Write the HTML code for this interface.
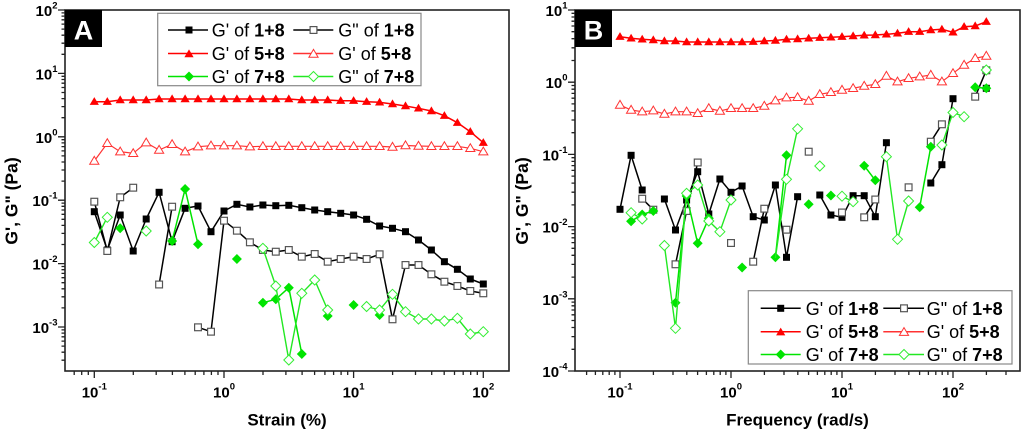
<!DOCTYPE html>
<html><head><meta charset="utf-8"><style>
html,body{margin:0;padding:0;background:#fff;}
svg{display:block;font-family:"Liberation Sans",Arial,sans-serif;}
</style></head><body>
<svg width="1024" height="430" viewBox="0 0 1024 430" xmlns="http://www.w3.org/2000/svg">
<defs>
<rect id="fs" x="-3.5" y="-3.5" width="7" height="7" fill="#000"/>
<rect id="os" x="-3.4" y="-3.4" width="6.8" height="6.8" fill="#fff" stroke="#555" stroke-width="1.2"/>
<polygon id="ft" points="0,-4.6 4.6,3.2 -4.6,3.2" fill="#f00"/>
<polygon id="ot" points="0,-4.6 4.6,3.2 -4.6,3.2" fill="#fff" stroke="#f33" stroke-width="1"/>
<polygon id="fd" points="0,-5 5,0 0,5 -5,0" fill="#00e400"/>
<polygon id="od" points="0,-5 5,0 0,5 -5,0" fill="#fff" stroke="#3e3" stroke-width="1"/>
</defs>
<rect width="1024" height="430" fill="#fff"/>

<!-- ================= PANEL A ================= -->
<g fill="none" stroke="#000" stroke-width="1.5" stroke-linejoin="round">
<polyline points="94.3,211.7 107.3,250 120.2,215 133.2,251 146.2,219 159.1,192.3 172.1,241.7 185.1,208.3 198,206 211,231.7 224,211 236.9,204.3 249.9,207 262.9,205 275.8,205.7 288.8,205.3 301.8,207.7 314.7,210 327.7,211.7 340.7,213.3 353.6,215 366.6,219.3 379.6,226 392.5,228.3 405.5,231.7 418.5,240 431.4,250 444.4,261.7 457.4,269.3 470.3,279 483.3,284"/>
</g>
<g>
<use href="#fs" x="94.3" y="211.7"/><use href="#fs" x="107.3" y="250"/><use href="#fs" x="120.2" y="215"/><use href="#fs" x="133.2" y="251"/><use href="#fs" x="146.2" y="219"/><use href="#fs" x="159.1" y="192.3"/><use href="#fs" x="172.1" y="241.7"/><use href="#fs" x="185.1" y="208.3"/><use href="#fs" x="198" y="206"/><use href="#fs" x="211" y="231.7"/><use href="#fs" x="224" y="211"/><use href="#fs" x="236.9" y="204.3"/><use href="#fs" x="249.9" y="207"/><use href="#fs" x="262.9" y="205"/><use href="#fs" x="275.8" y="205.7"/><use href="#fs" x="288.8" y="205.3"/><use href="#fs" x="301.8" y="207.7"/><use href="#fs" x="314.7" y="210"/><use href="#fs" x="327.7" y="211.7"/><use href="#fs" x="340.7" y="213.3"/><use href="#fs" x="353.6" y="215"/><use href="#fs" x="366.6" y="219.3"/><use href="#fs" x="379.6" y="226"/><use href="#fs" x="392.5" y="228.3"/><use href="#fs" x="405.5" y="231.7"/><use href="#fs" x="418.5" y="240"/><use href="#fs" x="431.4" y="250"/><use href="#fs" x="444.4" y="261.7"/><use href="#fs" x="457.4" y="269.3"/><use href="#fs" x="470.3" y="279"/><use href="#fs" x="483.3" y="284"/>
</g>
<g fill="none" stroke="#000" stroke-width="1.5" stroke-linejoin="round">
<polyline points="94.3,201.7 107.3,251 120.2,197.3 133.2,187.7"/>
<polyline points="159.1,284.5 172.1,206.7"/>
<polyline points="198,327.3 211,331.7 224,220.7 236.9,230.7 249.9,242.3 262.9,250 275.8,251.7 288.8,250 301.8,256.7 314.7,254 327.7,261.7 340.7,259 353.6,256.7 366.6,259 379.6,254.3 392.5,319.3 405.5,265 418.5,265 431.4,274.3 444.4,281.7 457.4,286 470.3,291 483.3,293.3"/>
</g>
<g>
<use href="#os" x="94.3" y="201.7"/><use href="#os" x="107.3" y="251"/><use href="#os" x="120.2" y="197.3"/><use href="#os" x="133.2" y="187.7"/><use href="#os" x="159.1" y="284.5"/><use href="#os" x="172.1" y="206.7"/><use href="#os" x="198" y="327.3"/><use href="#os" x="211" y="331.7"/><use href="#os" x="224" y="220.7"/><use href="#os" x="236.9" y="230.7"/><use href="#os" x="249.9" y="242.3"/><use href="#os" x="262.9" y="250"/><use href="#os" x="275.8" y="251.7"/><use href="#os" x="288.8" y="250"/><use href="#os" x="301.8" y="256.7"/><use href="#os" x="314.7" y="254"/><use href="#os" x="327.7" y="261.7"/><use href="#os" x="340.7" y="259"/><use href="#os" x="353.6" y="256.7"/><use href="#os" x="366.6" y="259"/><use href="#os" x="379.6" y="254.3"/><use href="#os" x="392.5" y="319.3"/><use href="#os" x="405.5" y="265"/><use href="#os" x="418.5" y="265"/><use href="#os" x="431.4" y="274.3"/><use href="#os" x="444.4" y="281.7"/><use href="#os" x="457.4" y="286"/><use href="#os" x="470.3" y="291"/><use href="#os" x="483.3" y="293.3"/>
</g>
<polyline fill="none" stroke="#f00" stroke-width="1.5" points="94.3,101.7 107.3,101.7 120.2,100 133.2,100 146.2,100 159.1,99 172.1,99 185.1,99 198,99 211,99 224,99 236.9,99 249.9,99 262.9,99 275.8,99 288.8,99 301.8,100 314.7,100 327.7,100 340.7,100.7 353.6,100.7 366.6,101.7 379.6,102.3 392.5,104 405.5,106 418.5,108.3 431.4,111 444.4,115.7 457.4,122.7 470.3,131.7 483.3,142.7"/>
<g>
<use href="#ft" x="94.3" y="101.7"/><use href="#ft" x="107.3" y="101.7"/><use href="#ft" x="120.2" y="100"/><use href="#ft" x="133.2" y="100"/><use href="#ft" x="146.2" y="100"/><use href="#ft" x="159.1" y="99"/><use href="#ft" x="172.1" y="99"/><use href="#ft" x="185.1" y="99"/><use href="#ft" x="198" y="99"/><use href="#ft" x="211" y="99"/><use href="#ft" x="224" y="99"/><use href="#ft" x="236.9" y="99"/><use href="#ft" x="249.9" y="99"/><use href="#ft" x="262.9" y="99"/><use href="#ft" x="275.8" y="99"/><use href="#ft" x="288.8" y="99"/><use href="#ft" x="301.8" y="100"/><use href="#ft" x="314.7" y="100"/><use href="#ft" x="327.7" y="100"/><use href="#ft" x="340.7" y="100.7"/><use href="#ft" x="353.6" y="100.7"/><use href="#ft" x="366.6" y="101.7"/><use href="#ft" x="379.6" y="102.3"/><use href="#ft" x="392.5" y="104"/><use href="#ft" x="405.5" y="106"/><use href="#ft" x="418.5" y="108.3"/><use href="#ft" x="431.4" y="111"/><use href="#ft" x="444.4" y="115.7"/><use href="#ft" x="457.4" y="122.7"/><use href="#ft" x="470.3" y="131.7"/><use href="#ft" x="483.3" y="142.7"/>
</g>
<polyline fill="none" stroke="#f33" stroke-width="1.2" points="94.3,161 107.3,143.3 120.2,151.7 133.2,153.3 146.2,142.7 159.1,150 172.1,144.3 185.1,151.7 198,146.7 211,145.7 224,145.7 236.9,145.7 249.9,146.7 262.9,146.3 275.8,146.3 288.8,146.3 301.8,146.3 314.7,146.3 327.7,146.3 340.7,146.3 353.6,146.3 366.6,146.3 379.6,146.3 392.5,147 405.5,145.5 418.5,146 431.4,146.3 444.4,146.3 457.4,146.3 470.3,148.3 483.3,151.7"/>
<g>
<use href="#ot" x="94.3" y="161"/><use href="#ot" x="107.3" y="143.3"/><use href="#ot" x="120.2" y="151.7"/><use href="#ot" x="133.2" y="153.3"/><use href="#ot" x="146.2" y="142.7"/><use href="#ot" x="159.1" y="150"/><use href="#ot" x="172.1" y="144.3"/><use href="#ot" x="185.1" y="151.7"/><use href="#ot" x="198" y="146.7"/><use href="#ot" x="211" y="145.7"/><use href="#ot" x="224" y="145.7"/><use href="#ot" x="236.9" y="145.7"/><use href="#ot" x="249.9" y="146.7"/><use href="#ot" x="262.9" y="146.3"/><use href="#ot" x="275.8" y="146.3"/><use href="#ot" x="288.8" y="146.3"/><use href="#ot" x="301.8" y="146.3"/><use href="#ot" x="314.7" y="146.3"/><use href="#ot" x="327.7" y="146.3"/><use href="#ot" x="340.7" y="146.3"/><use href="#ot" x="353.6" y="146.3"/><use href="#ot" x="366.6" y="146.3"/><use href="#ot" x="379.6" y="146.3"/><use href="#ot" x="392.5" y="147"/><use href="#ot" x="405.5" y="145.5"/><use href="#ot" x="418.5" y="146"/><use href="#ot" x="431.4" y="146.3"/><use href="#ot" x="444.4" y="146.3"/><use href="#ot" x="457.4" y="146.3"/><use href="#ot" x="470.3" y="148.3"/><use href="#ot" x="483.3" y="151.7"/>
</g>
<g fill="none" stroke="#00e400" stroke-width="1.5" stroke-linejoin="round">
<polyline points="172.1,241 185.1,189 198,244.3"/>
<polyline points="262.9,302.7 275.8,299.3 288.8,287.7 301.8,354"/>
</g>
<g>
<use href="#fd" x="120.2" y="228.3"/><use href="#fd" x="172.1" y="241"/><use href="#fd" x="185.1" y="189"/><use href="#fd" x="198" y="244.3"/><use href="#fd" x="236.9" y="259"/><use href="#fd" x="262.9" y="302.7"/><use href="#fd" x="275.8" y="299.3"/><use href="#fd" x="288.8" y="287.7"/><use href="#fd" x="301.8" y="354"/><use href="#fd" x="327.7" y="316"/><use href="#fd" x="353.6" y="305"/><use href="#fd" x="379.6" y="315"/>
</g>
<g fill="none" stroke="#22e822" stroke-width="1.4" stroke-linejoin="round">
<polyline points="94.3,242.5 107.3,217.3"/>
<polyline points="262.9,248.3 275.8,286 288.8,360 301.8,293.3 314.7,280 327.7,310"/>
<polyline points="366.6,306.5 379.6,310 392.5,294.3 405.5,311.7 418.5,319 431.4,319 444.4,321 457.4,318.3 470.3,334 483.3,331.7"/>
</g>
<g>
<use href="#od" x="94.3" y="242.5"/><use href="#od" x="107.3" y="217.3"/><use href="#od" x="146.2" y="231"/><use href="#od" x="262.9" y="248.3"/><use href="#od" x="275.8" y="286"/><use href="#od" x="288.8" y="360"/><use href="#od" x="301.8" y="293.3"/><use href="#od" x="314.7" y="280"/><use href="#od" x="327.7" y="310"/><use href="#od" x="366.6" y="306.5"/><use href="#od" x="379.6" y="310"/><use href="#od" x="392.5" y="294.3"/><use href="#od" x="405.5" y="311.7"/><use href="#od" x="418.5" y="319"/><use href="#od" x="431.4" y="319"/><use href="#od" x="444.4" y="321"/><use href="#od" x="457.4" y="318.3"/><use href="#od" x="470.3" y="334"/><use href="#od" x="483.3" y="331.7"/>
</g>

<!-- Frame A -->
<rect x="65" y="10" width="444" height="361" fill="none" stroke="#222" stroke-width="1.6"/>
<path fill="none" stroke="#222" stroke-width="1.3" d="M58 10h7M58 73.4h7M58 136.8h7M58 200.2h7M58 263.6h7M58 327h7
M61.5 54.3h3.5M61.5 43.2h3.5M61.5 35.2h3.5M61.5 29.1h3.5M61.5 24.1h3.5M61.5 19.8h3.5M61.5 16.1h3.5M61.5 12.9h3.5
M61.5 117.7h3.5M61.5 106.6h3.5M61.5 98.6h3.5M61.5 92.5h3.5M61.5 87.5h3.5M61.5 83.2h3.5M61.5 79.5h3.5M61.5 76.3h3.5
M61.5 181.1h3.5M61.5 170h3.5M61.5 162h3.5M61.5 155.9h3.5M61.5 150.9h3.5M61.5 146.6h3.5M61.5 142.9h3.5M61.5 139.7h3.5
M61.5 244.5h3.5M61.5 233.4h3.5M61.5 225.4h3.5M61.5 219.3h3.5M61.5 214.3h3.5M61.5 210h3.5M61.5 206.3h3.5M61.5 203.1h3.5
M61.5 307.9h3.5M61.5 296.8h3.5M61.5 288.8h3.5M61.5 282.7h3.5M61.5 277.7h3.5M61.5 273.4h3.5M61.5 269.7h3.5M61.5 266.5h3.5
M61.5 360.2h3.5M61.5 352.2h3.5M61.5 346.1h3.5M61.5 341.1h3.5M61.5 336.8h3.5M61.5 333.1h3.5M61.5 329.9h3.5
M94.3 371v7M224 371v7M353.6 371v7M483.3 371v7
M74.2 371v4M81.7 371v4M88.3 371v4
M133.3 371v4M156.2 371v4M172.4 371v4M184.9 371v4M195.2 371v4M203.9 371v4M211.4 371v4M218 371v4
M263 371v4M285.9 371v4M302.1 371v4M314.6 371v4M324.9 371v4M333.6 371v4M341.1 371v4M347.7 371v4
M392.6 371v4M415.5 371v4M431.7 371v4M444.2 371v4M454.5 371v4M463.2 371v4M470.7 371v4M477.3 371v4"/>

<g font-weight="bold" font-size="15" fill="#000" text-anchor="end">
<text x="57.5" y="16">10<tspan font-size="9.5" dy="-7.5">2</tspan></text>
<text x="57.5" y="79.4">10<tspan font-size="9.5" dy="-7.5">1</tspan></text>
<text x="57.5" y="142.8">10<tspan font-size="9.5" dy="-7.5">0</tspan></text>
<text x="57.5" y="206.2">10<tspan font-size="9.5" dy="-7.5">-1</tspan></text>
<text x="57.5" y="269.6">10<tspan font-size="9.5" dy="-7.5">-2</tspan></text>
<text x="57.5" y="333">10<tspan font-size="9.5" dy="-7.5">-3</tspan></text>
</g>
<g font-weight="bold" font-size="15" fill="#000" text-anchor="middle">
<text x="94.3" y="397.5">10<tspan font-size="9.5" dy="-8">-1</tspan></text>
<text x="224" y="397.5">10<tspan font-size="9.5" dy="-8">0</tspan></text>
<text x="353.6" y="397.5">10<tspan font-size="9.5" dy="-8">1</tspan></text>
<text x="483.3" y="397.5">10<tspan font-size="9.5" dy="-8">2</tspan></text>
</g>
<text x="287" y="425.5" font-weight="bold" font-size="17" text-anchor="middle">Strain (%)</text>
<text x="17.5" y="201" font-weight="bold" font-size="17.5" text-anchor="middle" transform="rotate(-90 17.5 201)">G', G" (Pa)</text>

<rect x="65" y="10" width="37" height="37" fill="#000"/>
<text x="83.5" y="39.5" font-weight="bold" font-size="27" fill="#fff" text-anchor="middle">A</text>

<!-- Legend A -->
<rect x="157.7" y="13.3" width="263.3" height="72.4" fill="#fff" stroke="#888" stroke-width="1.2"/>
<g stroke-width="1.5">
<line x1="168" y1="30" x2="208" y2="30" stroke="#000"/>
<line x1="293.3" y1="30" x2="333.3" y2="30" stroke="#000"/>
<line x1="168" y1="53.5" x2="208" y2="53.5" stroke="#f00"/>
<line x1="293.3" y1="53.5" x2="333.3" y2="53.5" stroke="#f33"/>
<line x1="168" y1="76.5" x2="208" y2="76.5" stroke="#00e400"/>
<line x1="293.3" y1="76.5" x2="333.3" y2="76.5" stroke="#22e822"/>
</g>
<use href="#fs" x="189" y="30"/><use href="#os" x="313.5" y="30"/>
<use href="#ft" x="189" y="54"/><use href="#ot" x="313.5" y="54"/>
<use href="#fd" x="189" y="76.5"/><use href="#od" x="313.5" y="76.5"/>
<g font-size="18" fill="#000">
<text x="211.7" y="36.5">G' of <tspan font-weight="bold">1+8</tspan></text>
<text x="338.3" y="36.5">G" of <tspan font-weight="bold">1+8</tspan></text>
<text x="211.7" y="60">G' of <tspan font-weight="bold">5+8</tspan></text>
<text x="338.3" y="60">G' of <tspan font-weight="bold">5+8</tspan></text>
<text x="211.7" y="83">G' of <tspan font-weight="bold">7+8</tspan></text>
<text x="338.3" y="83">G" of <tspan font-weight="bold">7+8</tspan></text>
</g>

<!-- ================= PANEL B ================= -->
<g fill="none" stroke="#000" stroke-width="1.5" stroke-linejoin="round">
<polyline points="620,209.3 631.1,155.3 642.2,190"/>
<polyline points="664.4,199 675.5,230 686.6,200 697.7,171.7 708.8,214 719.9,179 731,192.3 742.1,186 753.2,216.7 764.3,220 775.4,185 786.5,257.3 797.6,196.7"/>
<polyline points="819.8,195 830.9,215 842,217.3 853.1,195.7 864.2,195.7 875.3,216.7 886.4,142.7"/>
<polyline points="930.8,183 941.9,164.7 953,98.7"/>
</g>
<g>
<use href="#fs" x="620" y="209.3"/><use href="#fs" x="631.1" y="155.3"/><use href="#fs" x="642.2" y="190"/><use href="#fs" x="664.4" y="199"/><use href="#fs" x="675.5" y="230"/><use href="#fs" x="686.6" y="200"/><use href="#fs" x="697.7" y="171.7"/><use href="#fs" x="708.8" y="214"/><use href="#fs" x="719.9" y="179"/><use href="#fs" x="731" y="192.3"/><use href="#fs" x="742.1" y="186"/><use href="#fs" x="753.2" y="216.7"/><use href="#fs" x="764.3" y="220"/><use href="#fs" x="775.4" y="185"/><use href="#fs" x="786.5" y="257.3"/><use href="#fs" x="797.6" y="196.7"/><use href="#fs" x="819.8" y="195"/><use href="#fs" x="830.9" y="215"/><use href="#fs" x="842" y="217.3"/><use href="#fs" x="853.1" y="195.7"/><use href="#fs" x="864.2" y="195.7"/><use href="#fs" x="875.3" y="216.7"/><use href="#fs" x="886.4" y="142.7"/><use href="#fs" x="930.8" y="183"/><use href="#fs" x="941.9" y="164.7"/><use href="#fs" x="953" y="98.7"/><use href="#fs" x="986.3" y="88.3"/>
</g>
<g fill="none" stroke="#000" stroke-width="1.5" stroke-linejoin="round">
<polyline points="642.2,198.7 653.3,209.7"/>
<polyline points="675.5,264.3 686.6,211 697.7,162.5"/>
<polyline points="753.2,261.7 764.3,208.7"/>
<polyline points="864.2,217.3 875.3,199.5"/>
<polyline points="930.8,141.7 941.9,124.3"/>
<polyline points="975.2,96.7 986.3,70.3"/>
</g>
<g>
<use href="#os" x="642.2" y="198.7"/><use href="#os" x="653.3" y="209.7"/><use href="#os" x="675.5" y="264.3"/><use href="#os" x="686.6" y="211"/><use href="#os" x="697.7" y="162.5"/><use href="#os" x="731" y="243"/><use href="#os" x="753.2" y="261.7"/><use href="#os" x="764.3" y="208.7"/><use href="#os" x="786.5" y="229.7"/><use href="#os" x="808.7" y="151.7"/><use href="#os" x="842" y="212.5"/><use href="#os" x="864.2" y="217.3"/><use href="#os" x="875.3" y="199.5"/><use href="#os" x="908.6" y="187.3"/><use href="#os" x="930.8" y="141.7"/><use href="#os" x="941.9" y="124.3"/><use href="#os" x="975.2" y="96.7"/><use href="#os" x="986.3" y="70.3"/>
</g>
<polyline fill="none" stroke="#f00" stroke-width="1.5" points="620,36.7 631.1,38.3 642.2,39.3 653.3,40 664.4,41 675.5,41 686.6,42 697.7,42 708.8,42 719.9,42 731,42 742.1,42 753.2,41.7 764.3,41 775.4,40.5 786.5,39.3 797.6,39 808.7,38.3 819.8,37.7 830.9,37.3 842,36.7 853.1,36 864.2,35.3 875.3,35 886.4,34.3 897.5,33.3 908.6,31.7 919.7,31.7 930.8,30 941.9,29.3 953,32.3 964.1,26.7 975.2,26 986.3,21.7"/>
<g>
<use href="#ft" x="620" y="36.7"/><use href="#ft" x="631.1" y="38.3"/><use href="#ft" x="642.2" y="39.3"/><use href="#ft" x="653.3" y="40"/><use href="#ft" x="664.4" y="41"/><use href="#ft" x="675.5" y="41"/><use href="#ft" x="686.6" y="42"/><use href="#ft" x="697.7" y="42"/><use href="#ft" x="708.8" y="42"/><use href="#ft" x="719.9" y="42"/><use href="#ft" x="731" y="42"/><use href="#ft" x="742.1" y="42"/><use href="#ft" x="753.2" y="41.7"/><use href="#ft" x="764.3" y="41"/><use href="#ft" x="775.4" y="40.5"/><use href="#ft" x="786.5" y="39.3"/><use href="#ft" x="797.6" y="39"/><use href="#ft" x="808.7" y="38.3"/><use href="#ft" x="819.8" y="37.7"/><use href="#ft" x="830.9" y="37.3"/><use href="#ft" x="842" y="36.7"/><use href="#ft" x="853.1" y="36"/><use href="#ft" x="864.2" y="35.3"/><use href="#ft" x="875.3" y="35"/><use href="#ft" x="886.4" y="34.3"/><use href="#ft" x="897.5" y="33.3"/><use href="#ft" x="908.6" y="31.7"/><use href="#ft" x="919.7" y="31.7"/><use href="#ft" x="930.8" y="30"/><use href="#ft" x="941.9" y="29.3"/><use href="#ft" x="953" y="32.3"/><use href="#ft" x="964.1" y="26.7"/><use href="#ft" x="975.2" y="26"/><use href="#ft" x="986.3" y="21.7"/>
</g>
<polyline fill="none" stroke="#f33" stroke-width="1.2" points="620,105 631.1,110 642.2,111.7 653.3,110.7 664.4,114 675.5,111.7 686.6,111.7 697.7,113.3 708.8,108.3 719.9,111 731,108.3 742.1,108.3 753.2,108.3 764.3,106 775.4,100.7 786.5,97.7 797.6,97.3 808.7,101 819.8,94.3 830.9,92.3 842,90 853.1,88.3 864.2,86 875.3,84.3 886.4,76 897.5,81.7 908.6,78.3 919.7,76.7 930.8,75 941.9,81.7 953,73.3 964.1,65 975.2,58.3 986.3,56"/>
<g>
<use href="#ot" x="620" y="105"/><use href="#ot" x="631.1" y="110"/><use href="#ot" x="642.2" y="111.7"/><use href="#ot" x="653.3" y="110.7"/><use href="#ot" x="664.4" y="114"/><use href="#ot" x="675.5" y="111.7"/><use href="#ot" x="686.6" y="111.7"/><use href="#ot" x="697.7" y="113.3"/><use href="#ot" x="708.8" y="108.3"/><use href="#ot" x="719.9" y="111"/><use href="#ot" x="731" y="108.3"/><use href="#ot" x="742.1" y="108.3"/><use href="#ot" x="753.2" y="108.3"/><use href="#ot" x="764.3" y="106"/><use href="#ot" x="775.4" y="100.7"/><use href="#ot" x="786.5" y="97.7"/><use href="#ot" x="797.6" y="97.3"/><use href="#ot" x="808.7" y="101"/><use href="#ot" x="819.8" y="94.3"/><use href="#ot" x="830.9" y="92.3"/><use href="#ot" x="842" y="90"/><use href="#ot" x="853.1" y="88.3"/><use href="#ot" x="864.2" y="86"/><use href="#ot" x="875.3" y="84.3"/><use href="#ot" x="886.4" y="76"/><use href="#ot" x="897.5" y="81.7"/><use href="#ot" x="908.6" y="78.3"/><use href="#ot" x="919.7" y="76.7"/><use href="#ot" x="930.8" y="75"/><use href="#ot" x="941.9" y="81.7"/><use href="#ot" x="953" y="73.3"/><use href="#ot" x="964.1" y="65"/><use href="#ot" x="975.2" y="58.3"/><use href="#ot" x="986.3" y="56"/>
</g>
<g fill="none" stroke="#00e400" stroke-width="1.5" stroke-linejoin="round">
<polyline points="631.1,221.3 642.2,214.5 653.3,211"/>
<polyline points="675.5,302.7 686.6,196 697.7,243.3 708.8,218.3"/>
<polyline points="775.4,257.3 786.5,155.3"/>
<polyline points="864.2,165.7 875.3,180.3"/>
<polyline points="919.7,207.3 930.8,146.7"/>
<polyline points="975.2,87.3 986.3,88.3"/>
</g>
<g>
<use href="#fd" x="631.1" y="221.3"/><use href="#fd" x="642.2" y="214.5"/><use href="#fd" x="653.3" y="211"/><use href="#fd" x="675.5" y="302.7"/><use href="#fd" x="686.6" y="196"/><use href="#fd" x="697.7" y="243.3"/><use href="#fd" x="708.8" y="218.3"/><use href="#fd" x="742.1" y="267.5"/><use href="#fd" x="775.4" y="257.3"/><use href="#fd" x="786.5" y="155.3"/><use href="#fd" x="808.7" y="204.2"/><use href="#fd" x="830.9" y="195.5"/><use href="#fd" x="864.2" y="165.7"/><use href="#fd" x="875.3" y="180.3"/><use href="#fd" x="919.7" y="207.3"/><use href="#fd" x="930.8" y="146.7"/><use href="#fd" x="975.2" y="87.3"/><use href="#fd" x="986.3" y="88.3"/>
</g>
<g fill="none" stroke="#22e822" stroke-width="1.4" stroke-linejoin="round">
<polyline points="631.1,212.7 642.2,219"/>
<polyline points="664.4,245.5 675.5,328.3 686.6,193.3 697.7,185 708.8,221 719.9,231.7 731,200"/>
<polyline points="775.4,258 786.5,179.3 797.6,128.8"/>
<polyline points="842,196.2 853.1,201.7"/>
<polyline points="886.4,156.7 897.5,239.3 908.6,201"/>
<polyline points="941.9,145 953,112.5 964.1,116.7"/>
</g>
<g>
<use href="#od" x="631.1" y="212.7"/><use href="#od" x="642.2" y="219"/><use href="#od" x="664.4" y="245.5"/><use href="#od" x="675.5" y="328.3"/><use href="#od" x="686.6" y="193.3"/><use href="#od" x="697.7" y="185"/><use href="#od" x="708.8" y="221"/><use href="#od" x="719.9" y="231.7"/><use href="#od" x="731" y="200"/><use href="#od" x="786.5" y="179.3"/><use href="#od" x="797.6" y="128.8"/><use href="#od" x="819.8" y="166"/><use href="#od" x="842" y="196.2"/><use href="#od" x="853.1" y="201.7"/><use href="#od" x="886.4" y="156.7"/><use href="#od" x="897.5" y="239.3"/><use href="#od" x="908.6" y="201"/><use href="#od" x="941.9" y="145"/><use href="#od" x="953" y="112.5"/><use href="#od" x="964.1" y="116.7"/><use href="#od" x="986.3" y="70"/>
</g>

<!-- Frame B -->
<rect x="575" y="10" width="445" height="361" fill="none" stroke="#222" stroke-width="1.6"/>
<path fill="none" stroke="#222" stroke-width="1.3" d="M568 10h7M568 82.2h7M568 154.4h7M568 226.6h7M568 298.8h7M568 371h7
M571.5 60.5h3.5M571.5 47.8h3.5M571.5 38.7h3.5M571.5 31.7h3.5M571.5 26h3.5M571.5 21.2h3.5M571.5 17h3.5M571.5 13.3h3.5
M571.5 132.7h3.5M571.5 120h3.5M571.5 110.9h3.5M571.5 103.9h3.5M571.5 98.2h3.5M571.5 93.4h3.5M571.5 89.2h3.5M571.5 85.5h3.5
M571.5 204.9h3.5M571.5 192.2h3.5M571.5 183.1h3.5M571.5 176.1h3.5M571.5 170.4h3.5M571.5 165.6h3.5M571.5 161.4h3.5M571.5 157.7h3.5
M571.5 277.1h3.5M571.5 264.4h3.5M571.5 255.3h3.5M571.5 248.3h3.5M571.5 242.6h3.5M571.5 237.8h3.5M571.5 233.6h3.5M571.5 229.9h3.5
M571.5 349.3h3.5M571.5 336.6h3.5M571.5 327.5h3.5M571.5 320.5h3.5M571.5 314.8h3.5M571.5 310h3.5M571.5 305.8h3.5M571.5 302.1h3.5
M620 371v7M731 371v7M842 371v7M953 371v7
M586.6 371v4M595.4 371v4M602.8 371v4M609.2 371v4M614.9 371v4
M653.4 371v4M673 371v4M686.8 371v4M697.6 371v4M706.4 371v4M713.8 371v4M720.2 371v4M725.9 371v4
M764.4 371v4M784 371v4M797.8 371v4M808.6 371v4M817.4 371v4M824.8 371v4M831.2 371v4M836.9 371v4
M875.4 371v4M895 371v4M908.8 371v4M919.6 371v4M928.4 371v4M935.8 371v4M942.2 371v4M947.9 371v4
M986.4 371v4M1006 371v4"/>

<g font-weight="bold" font-size="15" fill="#000" text-anchor="end">
<text x="567.5" y="16">10<tspan font-size="9.5" dy="-7.5">1</tspan></text>
<text x="567.5" y="88.2">10<tspan font-size="9.5" dy="-7.5">0</tspan></text>
<text x="567.5" y="160.4">10<tspan font-size="9.5" dy="-7.5">-1</tspan></text>
<text x="567.5" y="232.6">10<tspan font-size="9.5" dy="-7.5">-2</tspan></text>
<text x="567.5" y="304.8">10<tspan font-size="9.5" dy="-7.5">-3</tspan></text>
<text x="567.5" y="377">10<tspan font-size="9.5" dy="-7.5">-4</tspan></text>
</g>
<g font-weight="bold" font-size="15" fill="#000" text-anchor="middle">
<text x="620" y="397.5">10<tspan font-size="9.5" dy="-8">-1</tspan></text>
<text x="731" y="397.5">10<tspan font-size="9.5" dy="-8">0</tspan></text>
<text x="842" y="397.5">10<tspan font-size="9.5" dy="-8">1</tspan></text>
<text x="953" y="397.5">10<tspan font-size="9.5" dy="-8">2</tspan></text>
</g>
<text x="797.5" y="425.5" font-weight="bold" font-size="17" text-anchor="middle">Frequency (rad/s)</text>
<text x="528" y="201" font-weight="bold" font-size="17.5" text-anchor="middle" transform="rotate(-90 528 201)">G', G" (Pa)</text>

<rect x="575" y="10" width="37" height="37" fill="#000"/>
<text x="593.5" y="39.5" font-weight="bold" font-size="27" fill="#fff" text-anchor="middle">B</text>

<!-- Legend B -->
<rect x="748.3" y="290.7" width="263.7" height="73.3" fill="#fff" stroke="#888" stroke-width="1.2"/>
<g stroke-width="1.5">
<line x1="760.7" y1="308.3" x2="800.7" y2="308.3" stroke="#000"/>
<line x1="883.3" y1="308.3" x2="924" y2="308.3" stroke="#000"/>
<line x1="760.7" y1="331.7" x2="800.7" y2="331.7" stroke="#f00"/>
<line x1="883.3" y1="331.7" x2="924" y2="331.7" stroke="#f33"/>
<line x1="760.7" y1="354.5" x2="800.7" y2="354.5" stroke="#00e400"/>
<line x1="883.3" y1="354.5" x2="924" y2="354.5" stroke="#22e822"/>
</g>
<use href="#fs" x="780.7" y="308.3"/><use href="#os" x="904" y="308.3"/>
<use href="#ft" x="780.7" y="332.2"/><use href="#ot" x="904" y="332.2"/>
<use href="#fd" x="780.7" y="354.5"/><use href="#od" x="904" y="354.5"/>
<g font-size="18" fill="#000">
<text x="805.7" y="314.8">G' of <tspan font-weight="bold">1+8</tspan></text>
<text x="926.7" y="314.8">G" of <tspan font-weight="bold">1+8</tspan></text>
<text x="805.7" y="338.2">G' of <tspan font-weight="bold">5+8</tspan></text>
<text x="926.7" y="338.2">G' of <tspan font-weight="bold">5+8</tspan></text>
<text x="805.7" y="361">G' of <tspan font-weight="bold">7+8</tspan></text>
<text x="926.7" y="361">G" of <tspan font-weight="bold">7+8</tspan></text>
</g>
</svg>
</body></html>
